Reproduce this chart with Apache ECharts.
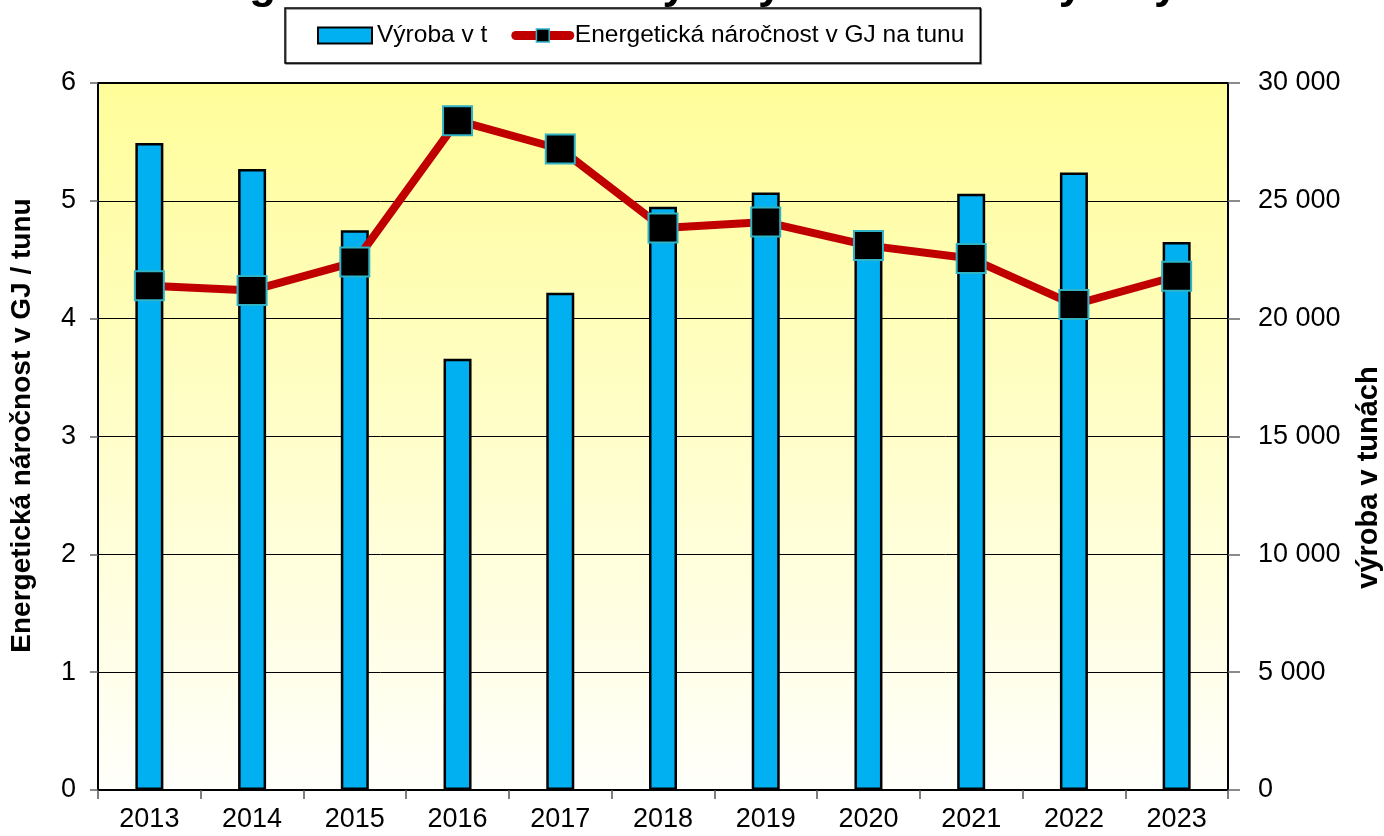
<!DOCTYPE html>
<html>
<head>
<meta charset="utf-8">
<script src="https://cdn.jsdelivr.net/npm/echarts@6/dist/echarts.min.js"></script>
<style>html,body{margin:0;padding:0;background:#fff}#c{width:1384px;height:836px}</style>
</head>
<body>
<div id="c"></div>
<script>
const years = ['2013','2014','2015','2016','2017','2018','2019','2020','2021','2022','2023'];
const vyroba = [27450, 26350, 23750, 18300, 21100, 24750, 25350, 23600, 25300, 26200, 23250];
const narocnost = [4.28, 4.24, 4.48, 5.68, 5.44, 4.77, 4.82, 4.62, 4.51, 4.12, 4.36];
const leftTicks = [0, 1, 2, 3, 4, 5, 6];
const rightTicks = [0, 5000, 10000, 15000, 20000, 25000, 30000];

const FONT = 'Liberation Sans, Arial, sans-serif';
const chart = echarts.init(document.getElementById('c'), null, {renderer: 'canvas'});
function fmtThousands(v) {
  return String(v).replace(/\B(?=(\d{3})+(?!\d))/g, ' ');
}
chart.setOption({
  animation: false,
  backgroundColor: '#fff',
  textStyle: {fontFamily: FONT},
  title: {
    text: 'Energetická náročnost výroby a množství výroby',
    left: 660, top: -41, textAlign: 'center',
    textStyle: {fontFamily: FONT, fontSize: 44, fontWeight: 'bold', color: '#000'}
  },
  legend: {
    left: 285, top: 8,
    padding: [15, 16, 15, 32],
    itemGap: 24,
    itemWidth: 54, itemHeight: 16,
    backgroundColor: '#fff',
    borderColor: '#000', borderWidth: 1.5,
    shadowColor: 'rgba(0,0,0,0.5)', shadowOffsetX: 1, shadowOffsetY: 1, shadowBlur: 0,
    textStyle: {fontFamily: FONT, fontSize: 24.5, color: '#000'},
    data: [
      {name: 'Výroba v t', icon: 'rect', itemStyle: {color: '#00B0F0', borderColor: '#000', borderWidth: 2}},
      {name: 'Energetická náročnost v GJ na tunu',
        lineStyle: {color: '#C00000', width: 9, cap: 'round'},
        itemStyle: {color: '#000', borderColor: '#2FB3C7', borderWidth: 1.5}}
    ]
  },
  grid: {
    left: 98, right: 156, top: 83, bottom: 46,
    outerBoundsMode: 'none',
    containLabel: false,
    show: true,
    borderColor: '#000', borderWidth: 2,
    backgroundColor: new echarts.graphic.LinearGradient(0, 0, 0, 1, [
      {offset: 0, color: '#FFFD99'},
      {offset: 1, color: '#FFFFFB'}
    ])
  },
  xAxis: {
    type: 'category',
    data: years,
    boundaryGap: true,
    axisLine: {lineStyle: {color: '#000', width: 2}},
    axisTick: {show: true, length: 9, lineStyle: {color: '#555', width: 1.5}},
    axisLabel: {fontFamily: FONT, fontSize: 27, color: '#000', margin: 16}
  },
  yAxis: [
    {
      type: 'value', min: 0, max: 6, interval: 1,
      name: 'Energetická náročnost v GJ / tunu',
      nameLocation: 'middle', nameGap: 62, nameRotate: 90,
      nameTextStyle: {fontFamily: FONT, fontSize: 28, fontWeight: 'bold', color: '#000', padding: [0, 0, 0, 22]},
      axisLine: {show: true, lineStyle: {color: '#000', width: 2}},
      axisTick: {show: true, length: 8, lineStyle: {color: '#666', width: 1.5}},
      axisLabel: {fontFamily: FONT, fontSize: 27, color: '#000', margin: 22,
        formatter: v => leftTicks.includes(v) ? String(v) : ''},
      splitLine: {show: true, lineStyle: {color: '#000', width: 1}}
    },
    {
      type: 'value', min: 0, max: 30000, interval: 5000,
      name: 'výroba v tunách',
      nameLocation: 'middle', nameGap: 126, nameRotate: 90,
      nameTextStyle: {fontFamily: FONT, fontSize: 29, fontWeight: 'bold', color: '#000', padding: [0, 82, 0, 0]},
      axisLine: {show: true, lineStyle: {color: '#000', width: 2}},
      axisTick: {show: true, length: 12, lineStyle: {color: '#666', width: 1.5}},
      axisLabel: {fontFamily: FONT, fontSize: 27, color: '#000', margin: 30,
        formatter: v => rightTicks.includes(v) ? fmtThousands(v) : ''},
      splitLine: {show: false}
    }
  ],
  series: [
    {
      name: 'Výroba v t', type: 'bar', yAxisIndex: 1,
      data: vyroba, barWidth: 28,
      itemStyle: {color: '#00B0F0', borderColor: '#000', borderWidth: 2.5}
    },
    {
      name: 'Energetická náročnost v GJ na tunu', type: 'line', yAxisIndex: 0,
      data: narocnost,
      lineStyle: {color: '#C00000', width: 8},
      symbol: 'rect', symbolSize: 29,
      itemStyle: {color: '#000', borderColor: '#2FB3C7', borderWidth: 2}
    }
  ]
});
</script>
</body>
</html>
